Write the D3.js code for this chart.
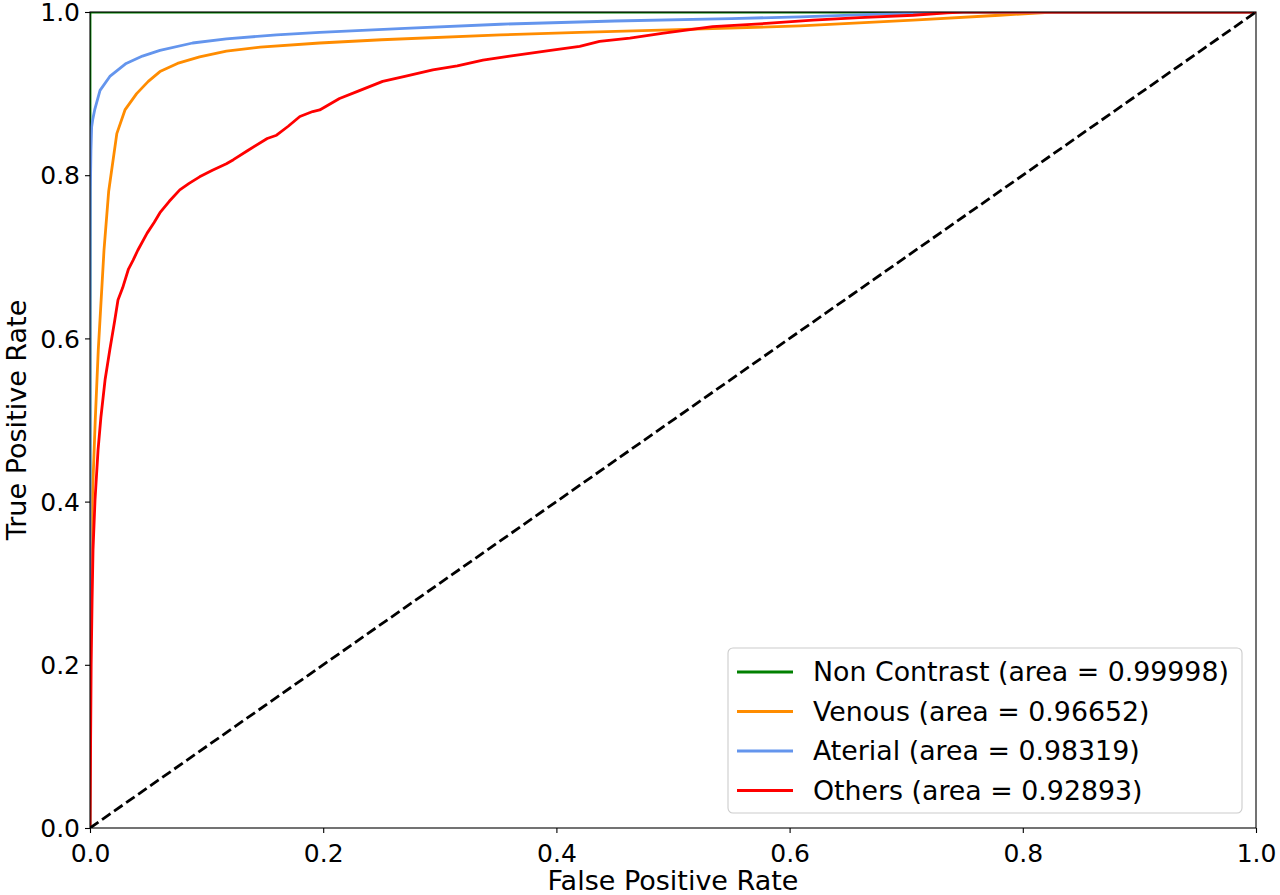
<!DOCTYPE html>
<html>
<head>
<meta charset="utf-8">
<script src="https://cdn.jsdelivr.net/npm/d3@7"></script>
<style>
  html, body { margin: 0; padding: 0; background: #ffffff; }
  svg { display: block; font-family: "DejaVu Sans", sans-serif; }
</style>
</head>
<body>
<svg id="chart" width="1280" height="895"></svg>
<script>
// ---- data ----
const seriesNames = ["Non Contrast (area = 0.99998)", "Venous (area = 0.96652)", "Aterial (area = 0.98319)", "Others (area = 0.92893)"];
const seriesColors = ["#008000", "#ff8c00", "#6495ed", "#ff0000"];

const nonContrastFpr = [0, 0, 1];
const nonContrastTpr = [0, 1, 1];

const venousFpr = [0, 0.0005, 0.001, 0.002, 0.0045, 0.0071, 0.012, 0.016, 0.023, 0.03, 0.04, 0.05, 0.06, 0.075, 0.094, 0.117, 0.146, 0.197, 0.25, 0.352, 0.42, 0.497, 0.609, 0.706, 0.78, 0.826, 1];
const venousTpr = [0, 0.25, 0.33, 0.402, 0.5, 0.586, 0.708, 0.78, 0.851, 0.88, 0.9, 0.915, 0.927, 0.937, 0.945, 0.952, 0.957, 0.962, 0.966, 0.972, 0.975, 0.978, 0.983, 0.99, 0.996, 1, 1];

const aterialFpr = [0, 0, 0.0003, 0.0008, 0.0014, 0.0023, 0.004, 0.0086, 0.017, 0.031, 0.045, 0.06, 0.088, 0.117, 0.16, 0.197, 0.27, 0.352, 0.45, 0.55, 0.609, 0.69, 0.75, 1];
const aterialTpr = [0, 0.55, 0.78, 0.83, 0.859, 0.868, 0.88, 0.904, 0.921, 0.937, 0.946, 0.953, 0.962, 0.967, 0.972, 0.975, 0.98, 0.985, 0.989, 0.992, 0.994, 0.998, 1, 1];

const othersFpr = [0, 0.0005, 0.001, 0.0018, 0.0026, 0.0043, 0.0069, 0.0094, 0.013, 0.017, 0.021, 0.024, 0.028, 0.033, 0.037, 0.041, 0.049, 0.055, 0.06, 0.068, 0.077, 0.085, 0.094, 0.105, 0.117, 0.123, 0.135, 0.152, 0.16, 0.17, 0.18, 0.191, 0.197, 0.214, 0.23, 0.251, 0.27, 0.294, 0.315, 0.337, 0.36, 0.395, 0.42, 0.437, 0.463, 0.492, 0.534, 0.58, 0.62, 0.66, 0.706, 0.735, 0.749, 1];
const othersTpr = [0, 0.1, 0.2, 0.28, 0.341, 0.402, 0.463, 0.504, 0.55, 0.586, 0.62, 0.647, 0.662, 0.685, 0.696, 0.708, 0.729, 0.742, 0.754, 0.768, 0.782, 0.79, 0.798, 0.806, 0.814, 0.819, 0.83, 0.845, 0.849, 0.86, 0.872, 0.878, 0.88, 0.894, 0.903, 0.915, 0.921, 0.929, 0.934, 0.941, 0.946, 0.953, 0.958, 0.964, 0.968, 0.974, 0.982, 0.986, 0.99, 0.993, 0.996, 0.999, 1, 1];

const diagonalX = [0, 1];
const diagonalY = [0, 1];

const xTicks = [0, 0.2, 0.4, 0.6, 0.8, 1.0];
const yTicks = [0, 0.2, 0.4, 0.6, 0.8, 1.0];
const xLabel = "False Positive Rate";
const yLabel = "True Positive Rate";

// ---- layout ----
const svg = d3.select("#chart");
const pLeft = 90, pRight = 1256, pTop = 12, pBottom = 828;
const x = d3.scaleLinear().domain([0, 1]).range([pLeft, pRight]);
const y = d3.scaleLinear().domain([0, 1]).range([pBottom, pTop]);

svg.append("defs").append("clipPath").attr("id", "clip")
  .append("rect").attr("x", pLeft).attr("y", pTop).attr("width", pRight - pLeft).attr("height", pBottom - pTop);

const plot = svg.append("g").attr("clip-path", "url(#clip)");
const line = d3.line().x(d => x(d[0])).y(d => y(d[1]));

const series = [
  [nonContrastFpr, nonContrastTpr],
  [venousFpr, venousTpr],
  [aterialFpr, aterialTpr],
  [othersFpr, othersTpr]
];

series.forEach((s, i) => {
  const pts = s[0].map((v, k) => [v, s[1][k]]);
  plot.append("path").datum(pts)
    .attr("d", line)
    .attr("fill", "none")
    .attr("stroke", seriesColors[i])
    .attr("stroke-width", 2.8)
    .attr("stroke-linejoin", "round")
    .attr("stroke-linecap", "butt");
});

plot.append("path").datum(diagonalX.map((v, k) => [v, diagonalY[k]]))
  .attr("d", line)
  .attr("fill", "none")
  .attr("stroke", "#000")
  .attr("stroke-width", 2.8)
  .attr("stroke-dasharray", "10.3,4.4");

// ---- axes ----
const fmt = d3.format(".1f");
const xAxis = svg.append("g").attr("transform", `translate(0,${pBottom})`)
  .call(d3.axisBottom(x).tickValues(xTicks).tickFormat(fmt).tickSize(5).tickPadding(5));
const yAxis = svg.append("g").attr("transform", `translate(${pLeft},0)`)
  .call(d3.axisLeft(y).tickValues(yTicks).tickFormat(fmt).tickSize(5).tickPadding(5));
[xAxis, yAxis].forEach(a => {
  a.select(".domain").remove();
  a.selectAll("line").attr("stroke", "#000").attr("stroke-width", 1.1);
  a.selectAll("text").attr("fill", "#000").style("font-size", "25px").style("font-family", "DejaVu Sans");
});
xAxis.selectAll("text").attr("dy", "0.95em");
yAxis.selectAll("text").attr("dy", "0.35em");

svg.append("rect").attr("x", pLeft).attr("y", pTop).attr("width", pRight - pLeft).attr("height", pBottom - pTop)
  .attr("fill", "none").attr("stroke", "#000").attr("stroke-width", 1.1);

svg.append("text").attr("x", (pLeft + pRight) / 2).attr("y", 890)
  .attr("text-anchor", "middle").style("font-size", "27px").text(xLabel);
svg.append("text").attr("transform", `translate(26,${(pTop + pBottom) / 2}) rotate(-90)`)
  .attr("text-anchor", "middle").style("font-size", "27px").text(yLabel);

// ---- legend ----
const lg = svg.append("g");
lg.append("rect").attr("x", 728).attr("y", 648).attr("width", 514).attr("height", 165)
  .attr("rx", 5).attr("ry", 5)
  .attr("fill", "#ffffff").attr("fill-opacity", 0.8)
  .attr("stroke", "#cccccc").attr("stroke-width", 1.1);
const rowY = [672, 711.5, 751, 790.5];
seriesNames.forEach((name, i) => {
  lg.append("line").attr("x1", 737).attr("x2", 793).attr("y1", rowY[i]).attr("y2", rowY[i])
    .attr("stroke", seriesColors[i]).attr("stroke-width", 2.8);
  lg.append("text").attr("x", 813).attr("y", rowY[i]).attr("dy", "0.35em")
    .style("font-size", "26.8px").attr("fill", "#000").text(name);
});
</script>
</body>
</html>
